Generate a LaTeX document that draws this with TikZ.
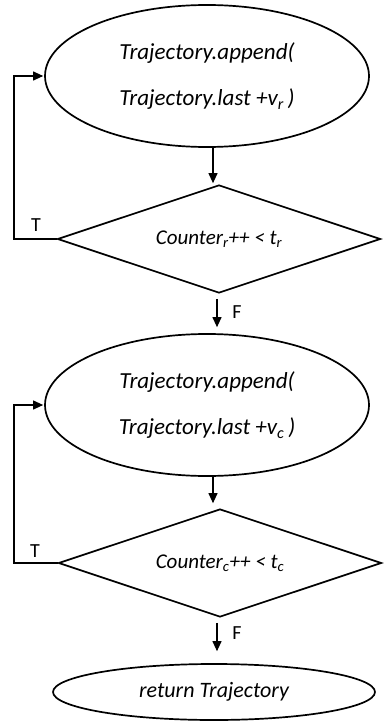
\documentclass[tikz,border=0pt]{standalone}
\usepackage{fontspec}
\setmainfont{Carlito}
\usetikzlibrary{shapes.geometric,arrows.meta}

\begin{document}
\begin{tikzpicture}[x=1pt,y=-1pt,
  outline/.style={draw, line width=1.7pt, inner sep=0pt},
  proc/.style={outline, ellipse, minimum width=324pt, minimum height=142pt,
    align=center, font=\fontsize{23}{46}\selectfont\itshape},
  test/.style={outline, diamond, aspect=3, minimum width=323pt, minimum height=108pt,
    font=\fontsize{21}{25}\selectfont\itshape},
  endbox/.style={outline, ellipse, minimum width=322pt, minimum height=56pt,
    font=\fontsize{22}{26}\selectfont\itshape},
  flow/.style={line width=1.1pt, -{Triangle[length=10pt,width=9pt]}},
  tag/.style={font=\fontsize{20}{24}\selectfont, inner sep=0pt}
]
\useasboundingbox (0,0) rectangle (383,722);

% nodes
\node[proc] (e1) at (207,76) {Trajectory.append(\\Trajectory.last +v\textsubscript{r}\,)};
\node[test] (d1) at (219,239) {Counter\textsubscript{r}++ < t\textsubscript{r}};
\node[proc] (e2) at (207,405) {Trajectory.append(\\Trajectory.last +v\textsubscript{c}\,)};
\node[test] (d2) at (220,563) {Counter\textsubscript{c}++ < t\textsubscript{c}};
\node[endbox] (ret) at (214,692) {return Trajectory};

% loop-back rails
\coordinate (rail1) at (14,0);
\coordinate (rail2) at (14,0);

% main flow
\draw[flow, shorten >=1pt] ([xshift=6pt]e1.south) -- ([xshift=6pt]e1.south |- d1.north);
\draw[flow, shorten <=5pt, shorten >=6pt] ([xshift=-2pt]d1.south) -- ([xshift=-2pt]d1.south |- e2.north);
\draw[flow, shorten >=5pt] ([xshift=6pt]e2.south) -- ([xshift=6pt]e2.south |- d2.north);
\draw[flow, shorten <=5pt, shorten >=12pt] ([xshift=-3pt]d2.south) -- ([xshift=-3pt]d2.south |- ret.north);

% true branches
\draw[flow, shorten >=1pt] (d1.west) -- (d1.west -| rail1) -- (rail1 |- e1.west) -- (e1.west);
\draw[flow, shorten >=1pt] (d2.west) -- (d2.west -| rail2) -- (rail2 |- e2.west) -- (e2.west);

% branch labels
\node[tag] (t1) at (36,225) {T};
\node[tag] (f1) at (237,312) {F};
\node[tag] (t2) at (35,551) {T};
\node[tag] (f2) at (237,633) {F};
\end{tikzpicture}
\end{document}
